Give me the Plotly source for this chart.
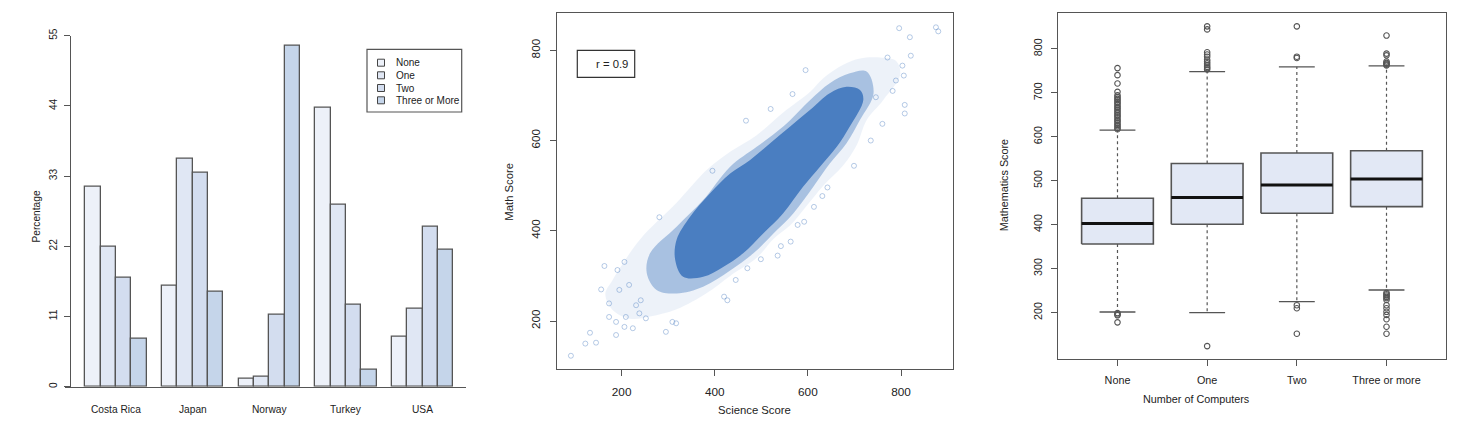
import plotly.graph_objects as go

W, H = 1461, 428
FONT = "Liberation Sans, Arial, sans-serif"
TXT = "#222222"
LINE = "#555555"

# ---------------- Panel 1: grouped bars ----------------
countries = ["Costa Rica", "Japan", "Norway", "Turkey", "USA"]
computer_levels = ["None", "One", "Two", "Three or More"]
pct_none = [31.3, 15.8, 1.3, 43.7, 7.8]
pct_one = [21.9, 35.8, 1.5, 28.5, 12.2]
pct_two = [17.1, 33.5, 11.3, 12.8, 25.1]
pct_three = [7.5, 14.9, 53.5, 2.6, 21.5]
pct_ticks = [0, 11, 22, 33, 44, 55]
bar_colors = ["#edf1f9", "#e0e7f4", "#d3ddef", "#c5d5ea"]

# ---------------- Panel 2: scatter cloud ----------------
sci_ticks = [200, 400, 600, 800]
math_ticks = [200, 400, 600, 800]
cloud_outer_x = [165, 180, 239, 318, 383, 433, 490, 547, 605, 633, 676, 712, 755, 790,
                 798, 762, 726, 705, 676, 633, 597, 562, 526, 490, 433, 383, 318, 261, 218, 180]
cloud_outer_y = [260, 290, 380, 462, 535, 575, 612, 662, 708, 738, 768, 782, 784, 776,
                 745, 690, 645, 590, 545, 500, 455, 412, 382, 340, 300, 262, 226, 210, 205, 225]
cloud_mid_x = [254, 261, 318, 375, 433, 490, 547, 605, 647, 690, 726, 741, 712, 683,
               647, 612, 569, 526, 483, 433, 375, 318, 275]
cloud_mid_y = [306, 350, 409, 468, 542, 586, 631, 690, 727, 749, 753, 705, 646, 594,
               549, 498, 439, 394, 350, 312, 276, 261, 269]
cloud_core_x = [315, 318, 347, 390, 433, 476, 519, 562, 605, 647, 683, 712, 719, 690,
                662, 626, 590, 547, 504, 461, 418, 375, 332]
cloud_core_y = [335, 380, 431, 483, 527, 557, 594, 631, 668, 705, 719, 712, 690, 631,
                586, 542, 498, 439, 394, 350, 320, 298, 298]
stray_x = [91, 122, 145, 132, 188, 163, 156, 281, 295, 317, 309, 173, 209, 206, 188, 238,
           252, 206, 191, 216, 231, 195, 241, 173, 427, 420, 445, 470, 224,
           796, 819, 875, 880, 821, 803, 806, 808, 808, 789, 771, 782, 595, 699, 735,
           760, 746, 520, 642, 567, 499, 535, 563, 592, 613, 631, 542, 578, 467, 395]
stray_y = [123, 150, 152, 174, 169, 322, 270, 430, 176, 195, 198, 209, 209, 187, 198, 217,
           206, 331, 313, 280, 235, 269, 246, 239, 246, 254, 291, 317, 184,
           849, 829, 851, 842, 788, 766, 744, 679, 660, 733, 784, 710, 756, 544, 600,
           637, 696, 670, 496, 703, 337, 345, 376, 420, 453, 477, 366, 413, 644, 533]

# ---------------- Panel 3: box plots ----------------
box_groups = ["None", "One", "Two", "Three or more"]
box_q1 = [356, 401, 426, 441]
box_median = [403, 462, 490, 504]
box_q3 = [460, 539, 563, 568]
box_low = [201.5, 200, 225, 251.5]
box_high = [615, 748, 759, 761]
box_ticks = [200, 300, 400, 500, 600, 700, 800]
out_none = [756, 740, 721, 702, 694, 690, 686, 683, 679, 676, 672, 668, 665, 661, 657,
            653, 649, 646, 642, 638, 635, 631, 627, 624, 620, 617, 199, 196, 194, 178]
out_one = [851, 844, 792, 787, 782, 775, 771, 767, 763, 759, 756, 753, 124]
out_two = [851, 782, 779, 217, 210, 152]
out_three = [830, 789, 785, 771, 768, 766, 764, 762, 245, 242, 239, 236, 233, 229,
             217, 210, 202, 195, 185, 168, 152]
box_outliers = [out_none, out_one, out_two, out_three]


def fx(px):
    return px / W


def fy(py):
    return 1 - py / H


fig = go.Figure()

# ---- bars
for i, (lvl, vals) in enumerate(zip(computer_levels, [pct_none, pct_one, pct_two, pct_three])):
    xs = [1.5 + 5 * g + i for g in range(len(countries))]
    fig.add_trace(go.Bar(x=xs, y=vals, width=1, name=lvl, xaxis="x", yaxis="y",
                         marker=dict(color=bar_colors[i], line=dict(color=LINE, width=1.3)),
                         showlegend=False))

# ---- scatter cloud
blue = "74,126,193"
for xs, ys, op in [(cloud_outer_x, cloud_outer_y, 0.10),
                   (cloud_mid_x, cloud_mid_y, 0.42),
                   (cloud_core_x, cloud_core_y, 1.0)]:
    fig.add_trace(go.Scatter(x=xs + xs[:1], y=ys + ys[:1], xaxis="x2", yaxis="y2",
                             mode="lines", fill="toself",
                             fillcolor=f"rgba({blue},{op})",
                             line=dict(width=0, color=f"rgba({blue},0)"),
                             line_shape="spline", hoverinfo="skip", showlegend=False))
fig.add_trace(go.Scatter(x=stray_x, y=stray_y, xaxis="x2", yaxis="y2", mode="markers",
                         marker=dict(symbol="circle-open", size=5, color=f"rgba({blue},0.4)",
                                     line=dict(width=1)),
                         showlegend=False))

# ---- box plots
for i, g in enumerate(box_groups):
    c = i + 1
    fig.add_trace(go.Scatter(x=[c, c, None, c, c], y=[box_q3[i], box_high[i], None, box_q1[i], box_low[i]],
                             xaxis="x3", yaxis="y3", mode="lines",
                             line=dict(color=LINE, width=1.2, dash="3px,3px"), showlegend=False))
    fig.add_trace(go.Scatter(x=[c - 0.2, c + 0.2, None, c - 0.2, c + 0.2],
                             y=[box_high[i], box_high[i], None, box_low[i], box_low[i]],
                             xaxis="x3", yaxis="y3", mode="lines",
                             line=dict(color=LINE, width=1.3), showlegend=False))
    fig.add_trace(go.Scatter(x=[c - 0.4, c + 0.4, c + 0.4, c - 0.4, c - 0.4],
                             y=[box_q1[i], box_q1[i], box_q3[i], box_q3[i], box_q1[i]],
                             xaxis="x3", yaxis="y3", mode="lines", fill="toself",
                             fillcolor="#e2e8f5", line=dict(color=LINE, width=1.6),
                             showlegend=False))
    fig.add_trace(go.Scatter(x=[c - 0.4, c + 0.4], y=[box_median[i], box_median[i]],
                             xaxis="x3", yaxis="y3", mode="lines",
                             line=dict(color="#111111", width=3), showlegend=False))
    fig.add_trace(go.Scatter(x=[c] * len(box_outliers[i]), y=box_outliers[i],
                             xaxis="x3", yaxis="y3", mode="markers",
                             marker=dict(symbol="circle-open", size=5.5, color=LINE,
                                         line=dict(width=1.1)),
                             showlegend=False))

tickfont1 = dict(family=FONT, size=10.2, color=TXT)
tickfont2 = dict(family=FONT, size=11.8, color=TXT)
tickfont3 = dict(family=FONT, size=10.8, color=TXT)

common = dict(automargin=False, showgrid=False, zeroline=False)

fig.update_layout(
    template="none",
    width=W, height=H, margin=dict(l=0, r=0, t=0, b=0, pad=0), autosize=False,
    paper_bgcolor="white", plot_bgcolor="white",
    barmode="overlay", bargap=0,
    xaxis=dict(domain=[fx(65), fx(466)], range=[-0.324, 25.83], anchor="y",
               showline=True, linecolor=LINE, linewidth=1.3,
               showticklabels=False, ticks="", **common),
    yaxis=dict(domain=[fy(386.7), fy(35.7)], range=[0, 55], anchor="free", position=fx(70),
               tickvals=pct_ticks, ticks="outside", ticklen=6, tickcolor=LINE,
               showline=True, linecolor=LINE, linewidth=1.3,
               tickangle=-90, tickfont=tickfont1, ticklabelstandoff=3, **common),
    xaxis2=dict(domain=[fx(556.7), fx(952.7)], range=[60.5, 911], anchor="y2",
                tickvals=sci_ticks, ticks="outside", ticklen=6, tickcolor=LINE,
                showline=True, mirror=True, linecolor=LINE, linewidth=1.3,
                tickfont=tickfont2, ticklabelstandoff=5, **common),
    yaxis2=dict(domain=[fy(369.3), fy(13.3)], range=[93, 882], anchor="x2",
                tickvals=math_ticks, ticks="outside", ticklen=6, tickcolor=LINE,
                showline=True, mirror=True, linecolor=LINE, linewidth=1.3,
                tickangle=-90, tickfont=tickfont2, ticklabelstandoff=5, **common),
    xaxis3=dict(domain=[fx(1058.3), fx(1445.7)], range=[0.34, 4.66], anchor="y3",
                tickvals=[1, 2, 3, 4], ticktext=box_groups, ticks="outside", ticklen=6,
                tickcolor=LINE, showline=True, mirror=True, linecolor=LINE, linewidth=1.3,
                tickfont=tickfont3, ticklabelstandoff=5, **common),
    yaxis3=dict(domain=[fy(359.3), fy(12.7)], range=[94, 882], anchor="x3",
                tickvals=box_ticks, ticks="outside", ticklen=6, tickcolor=LINE,
                showline=True, mirror=True, linecolor=LINE, linewidth=1.3,
                tickangle=-90, tickfont=tickfont3, ticklabelstandoff=5, **common),
)

ann = []
for g, name in enumerate(countries):
    ann.append(dict(x=3 + 5 * g, y=fy(409), xref="x", yref="paper", text=name,
                    showarrow=False, font=tickfont1, xanchor="center", yanchor="middle"))
ann.append(dict(x=fx(28), y=fy(217), xref="paper", yref="paper", text="Percentage",
                textangle=-90, showarrow=False, font=tickfont1))
ann.append(dict(x=fx(754), y=fy(417.7), xref="paper", yref="paper", text="Science Score",
                showarrow=False, font=dict(family=FONT, size=11.3, color=TXT)))
ann.append(dict(x=fx(509), y=fy(191.7), xref="paper", yref="paper", text="Math Score",
                textangle=-90, showarrow=False, font=dict(family=FONT, size=11.3, color=TXT)))
ann.append(dict(x=fx(1251.7), y=fy(407.3), xref="paper", yref="paper", text="Number of Computers",
                showarrow=False, font=tickfont3))
ann.append(dict(x=fx(1012.3), y=fy(185), xref="paper", yref="paper", text="Mathematics Score",
                textangle=-90, showarrow=False, font=tickfont3))
ann.append(dict(x=fx(629.5), y=fy(63.7), xref="paper", yref="paper", text="r = 0.9",
                showarrow=False, xanchor="right", yanchor="middle",
                font=dict(family=FONT, size=11.3, color=TXT)))

shapes = []
shapes.append(dict(type="rect", xref="paper", yref="paper", x0=fx(577.3), x1=fx(634.7),
                   y0=fy(77.3), y1=fy(50.3), line=dict(color="#333333", width=1.2)))
shapes.append(dict(type="rect", xref="paper", yref="paper", x0=fx(367), x1=fx(461.7),
                   y0=fy(112), y1=fy(49.3), line=dict(color=LINE, width=1.2)))
leg_rows = [62.7, 75.3, 88.0, 100.3]
for i, lvl in enumerate(computer_levels):
    py = leg_rows[i]
    shapes.append(dict(type="rect", xref="paper", yref="paper", x0=fx(377.5), x1=fx(384.5),
                       y0=fy(py + 3.5), y1=fy(py - 3.5), fillcolor=bar_colors[i],
                       line=dict(color="#444444", width=1)))
    ann.append(dict(x=fx(394), y=fy(py), xref="paper", yref="paper", text=lvl,
                    showarrow=False, xanchor="left", yanchor="middle",
                    font=dict(family=FONT, size=10, color=TXT)))

fig.update_layout(annotations=ann, shapes=shapes)
fig.write_html("out.html", config={"displayModeBar": False},
               post_script="document.body.style.margin='0';document.body.style.overflow='hidden';")
